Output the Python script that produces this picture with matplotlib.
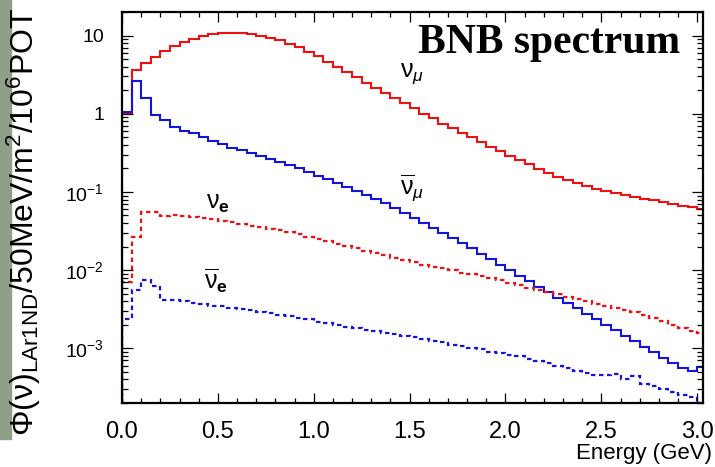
import numpy as np
import matplotlib
matplotlib.use("Agg")
import matplotlib.pyplot as plt
from matplotlib.patches import Rectangle

plt.rcParams['font.family'] = ['Liberation Sans', 'DejaVu Sans']
plt.rcParams['mathtext.fontset'] = 'custom'
plt.rcParams['mathtext.rm'] = 'Liberation Sans'
plt.rcParams['mathtext.it'] = 'Liberation Sans:italic'
plt.rcParams['mathtext.bf'] = 'Liberation Sans:bold'

# 50 MeV bins, 0 - 3.05 GeV
bin_edges = np.round(np.arange(62) * 0.05, 2)

# nu_mu flux (red solid)
numu = [1.0, 3.6, 4.5, 5.3, 6.3, 7.3, 8.2, 9.1, 9.8, 10.4,
        10.8, 10.9, 10.8, 10.5, 10.0, 9.4, 8.7, 7.9, 7.1, 6.2,
        5.4, 4.6, 4.0, 3.4, 2.95, 2.5, 2.15, 1.85, 1.58, 1.36,
        1.17, 1.0, 0.87, 0.75, 0.65, 0.57, 0.50, 0.44, 0.38, 0.33,
        0.29, 0.255, 0.225, 0.198, 0.175, 0.156, 0.141, 0.129, 0.119, 0.110,
        0.103, 0.097, 0.091, 0.086, 0.082, 0.078, 0.074, 0.070, 0.067, 0.064,
        0.061]

# anti nu_mu flux (blue solid)
numubar = [1.06, 2.6, 1.6, 0.97, 0.82, 0.68, 0.60, 0.56, 0.50, 0.45,
           0.41, 0.37, 0.34, 0.316, 0.288, 0.263, 0.240, 0.219, 0.200, 0.182,
           0.162, 0.145, 0.129, 0.115, 0.102, 0.0912, 0.0813, 0.0716, 0.0624, 0.0543,
           0.0468, 0.0403, 0.0347, 0.0299, 0.0257, 0.0221, 0.0191, 0.0162, 0.0138, 0.0117,
           0.0100, 0.00851, 0.00724, 0.00617, 0.00525, 0.00447, 0.00380, 0.00324, 0.00275, 0.00234,
           0.00200, 0.00170, 0.00145, 0.00123, 0.00105, 0.00089, 0.00076, 0.00065, 0.00056, 0.00052,
           0.00058]

# nu_e flux (red dashed)
nue = [0.0071, 0.0269, 0.0562, 0.0562, 0.049, 0.050, 0.049, 0.0479, 0.0468, 0.0447,
       0.0427, 0.0407, 0.0389, 0.0372, 0.0355, 0.0339, 0.0324, 0.0309, 0.0288, 0.0269,
       0.0251, 0.0234, 0.0219, 0.0204, 0.0191, 0.0178, 0.0166, 0.0155, 0.0145, 0.0135,
       0.0126, 0.0117, 0.0111, 0.0105, 0.0099, 0.0093, 0.0088, 0.0083, 0.0079, 0.0074,
       0.0069, 0.0065, 0.0060, 0.0056, 0.0052, 0.0049, 0.0046, 0.0043, 0.0040, 0.0037,
       0.0035, 0.0033, 0.0031, 0.0029, 0.0027, 0.00245, 0.00224, 0.0020, 0.0018, 0.00166,
       0.00158]

# anti nu_e flux (blue dashed)
nuebar = [0.0024, 0.0055, 0.0074, 0.0062, 0.0042, 0.0041, 0.0040, 0.0038, 0.0037, 0.0035,
          0.00347, 0.0033, 0.0032, 0.0031, 0.00295, 0.0028, 0.0027, 0.0026, 0.00245, 0.00234,
          0.00219, 0.00209, 0.0020, 0.0019, 0.0018, 0.00174, 0.00166, 0.00158, 0.00151, 0.00145,
          0.00138, 0.00132, 0.00126, 0.0012, 0.00112, 0.00107, 0.00102, 0.00098, 0.00091, 0.00087,
          0.00083, 0.00079, 0.00074, 0.00069, 0.00065, 0.0006, 0.00056, 0.00052, 0.00049, 0.00046,
          0.00045, 0.00047, 0.0004, 0.00044, 0.00035, 0.00033, 0.0003, 0.00028, 0.00025, 0.00024,
          0.0002]

xticks = [0.0, 0.5, 1.0, 1.5, 2.0, 2.5, 3.0]
xtick_labels = ['0.0', '0.5', '1.0', '1.5', '2.0', '2.5', '3.0']
yticks = [1e-3, 1e-2, 1e-1, 1, 10]
ytick_labels = [r'$10^{-3}$', r'$10^{-2}$', r'$10^{-1}$', '1', '10']

RED = '#f01010'
BLUE = '#1414e0'

fig = plt.figure(figsize=(7.15, 4.67), dpi=100)
fig.patches.append(Rectangle((0, 0.06), 11 / 715, 0.94, transform=fig.transFigure,
                             color='#8fa088', zorder=0))
ax = fig.add_axes([0.1706, 0.137, 0.8126, 0.8373])

ax.stairs(numu, bin_edges, baseline=1e-6, color=RED, lw=1.5)
ax.stairs(numubar, bin_edges, baseline=1e-6, color=BLUE, lw=1.5)
ax.stairs(nue, bin_edges, baseline=1e-6, color=RED, lw=1.6, linestyle=(0, (2, 1.6)))
ax.stairs(nuebar, bin_edges, baseline=1e-6, color=BLUE, lw=1.6, linestyle=(0, (2, 1.6)))

ax.set_yscale('log')
ax.set_xlim(0, 3.03)
ax.set_ylim(2e-4, 20)

ax.set_xticks(xticks)
ax.set_xticklabels(xtick_labels, fontsize=17)
ax.set_xticks(np.round(np.arange(0, 3.01, 0.1), 1), minor=True)
ax.set_yticks(yticks)
ax.set_yticklabels(ytick_labels, fontsize=14)
ax.yaxis.set_minor_locator(matplotlib.ticker.LogLocator(base=10, subs=np.arange(2, 10)))
ax.yaxis.set_minor_formatter(matplotlib.ticker.NullFormatter())
ax.tick_params(which='both', direction='in', top=True, right=True, width=0.9)
ax.tick_params(axis='y', which='major', length=8, pad=13)
ax.tick_params(axis='y', which='minor', length=4)
ax.tick_params(axis='x', which='major', length=7, pad=13)
ax.tick_params(axis='x', which='minor', length=3.5)
for s in ax.spines.values():
    s.set_linewidth(1.6)

# curve labels
ax.text(1.45, 3.3, r'$\mathrm{\nu}_{\mu}$', fontsize=18, ha='left', va='center')
ax.text(1.45, 0.115, r'$\overline{\mathrm{\nu}}_{\mu}$', fontsize=18, ha='left', va='center')
ax.text(0.44, 0.072, r'$\mathrm{\nu}_{\mathbf{e}}$', fontsize=18, ha='left', va='center')
ax.text(0.43, 0.0074, r'$\overline{\mathrm{\nu}}_{\mathbf{e}}$', fontsize=18, ha='left', va='center')
ax.text(2.23, 6.0, 'BNB spectrum', fontsize=30, fontweight='bold',
        family=['Liberation Serif', 'DejaVu Serif'], ha='center', va='baseline')

fig.text(712 / 715, 1 - 454 / 467, 'Energy (GeV)', fontsize=16, ha='right', va='center')
fig.text(24 / 715, 1 - 222 / 467,
         r'$\mathrm{\Phi(\nu)}_{\mathrm{LAr1ND}}$/50MeV/m$^{2}$/10$^{6}$POT',
         fontsize=23, rotation=90, ha='center', va='center')

fig.savefig('out.png', dpi=100)
